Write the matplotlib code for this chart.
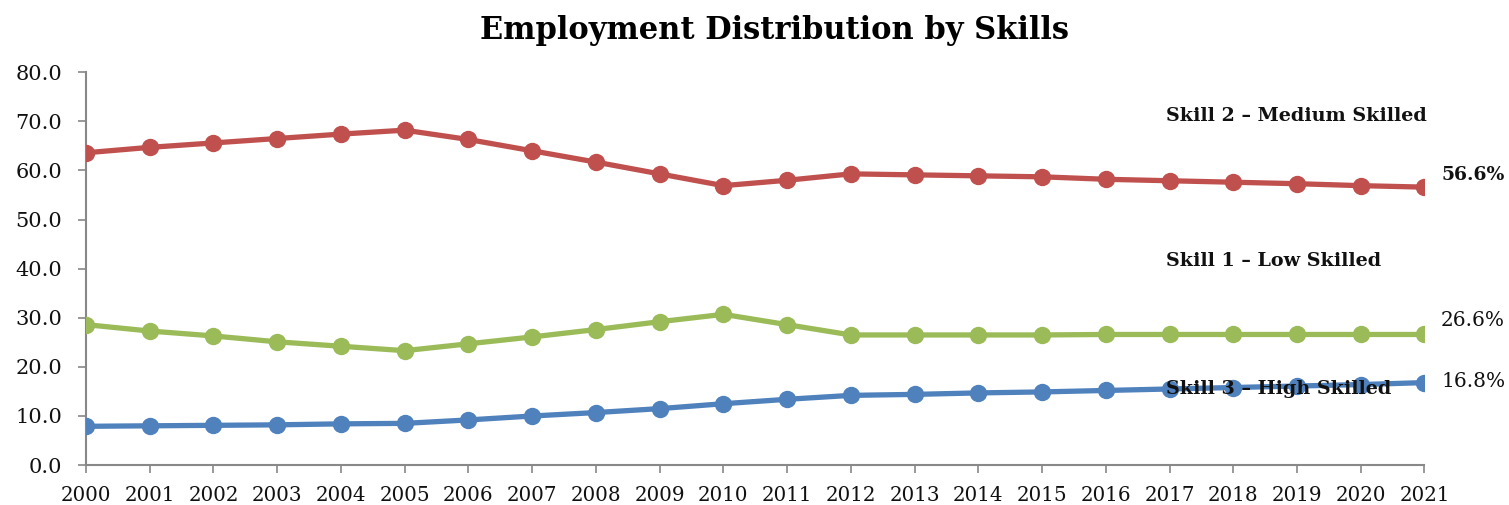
import numpy as np
import matplotlib
matplotlib.use("Agg")
import matplotlib.pyplot as plt

years = list(range(2000, 2022))

# share of employment (%) by skill level
medium_skilled = [63.6, 64.7, 65.6, 66.5, 67.4, 68.2, 66.3, 64.0, 61.7, 59.3, 56.9,
                  58.0, 59.3, 59.1, 58.9, 58.7, 58.2, 57.9, 57.6, 57.3, 56.9, 56.6]
low_skilled = [28.6, 27.3, 26.3, 25.1, 24.2, 23.3, 24.7, 26.1, 27.6, 29.2, 30.7,
               28.6, 26.5, 26.5, 26.5, 26.5, 26.6, 26.6, 26.6, 26.6, 26.6, 26.6]
high_skilled = [7.9, 8.0, 8.1, 8.2, 8.4, 8.5, 9.2, 10.0, 10.7, 11.5, 12.5,
                13.4, 14.2, 14.4, 14.7, 14.9, 15.2, 15.5, 15.8, 16.1, 16.4, 16.8]

# name, values, colour, name row (px from top), end-label lift (pt), end-label weight
series = [
    ("Skill 2 \u2013 Medium Skilled", medium_skilled, "#C0504D", 116, 8.5, "bold"),
    ("Skill 1 \u2013 Low Skilled", low_skilled, "#9BBB59", 261, 10, "normal"),
    ("Skill 3 \u2013 High Skilled", high_skilled, "#4F81BD", 389, 0.5, "normal"),
]

plt.rcParams["font.family"] = ["DejaVu Serif"]

fig = plt.figure(figsize=(15.09, 5.05), dpi=100)
ax = fig.add_axes([0.057, 0.079, 0.887, 0.778])

x = np.arange(len(years))
for name, vals, color, label_y, lift, weight in series:
    ax.plot(x, vals, color=color, lw=3.8, marker="o", ms=11.5,
            solid_capstyle="round", zorder=3)
    # end-of-series value
    ax.annotate(f"{vals[-1]:.1f}%", xy=(x[-1], vals[-1]), xytext=(12, lift),
                textcoords="offset points", ha="left", va="center",
                fontsize=13.5 if weight == "bold" else 14.5, fontweight=weight,
                color="#111111")
    # series name placed by figure pixel row
    fig.text(1166 / 1509, 1 - label_y / 505, name, ha="left", va="center",
             fontsize=13.8, fontweight="bold", color="#111111", zorder=5)

ax.set_xlim(0, len(years) - 1)
ax.set_ylim(0, 80)
ax.set_yticks(np.arange(0, 81, 10))
ax.set_yticklabels([f"{v:.1f}" for v in np.arange(0, 81, 10)], fontsize=15)
ax.set_xticks(x)
ax.set_xticklabels([str(y) for y in years], fontsize=14.3)

for side in ["top", "right"]:
    ax.spines[side].set_visible(False)
for side in ["left", "bottom"]:
    ax.spines[side].set_color("#888888")
    ax.spines[side].set_linewidth(1.5)
ax.tick_params(axis="both", direction="out", length=6, width=1.2, color="#888888",
               labelcolor="#111111")
ax.tick_params(axis="y", pad=11)
ax.tick_params(axis="x", pad=9)

fig.text(0.513, 0.94, "Employment Distribution by Skills", ha="center", va="center",
         fontsize=22, fontweight="bold")

fig.savefig("out.png", dpi=100)
